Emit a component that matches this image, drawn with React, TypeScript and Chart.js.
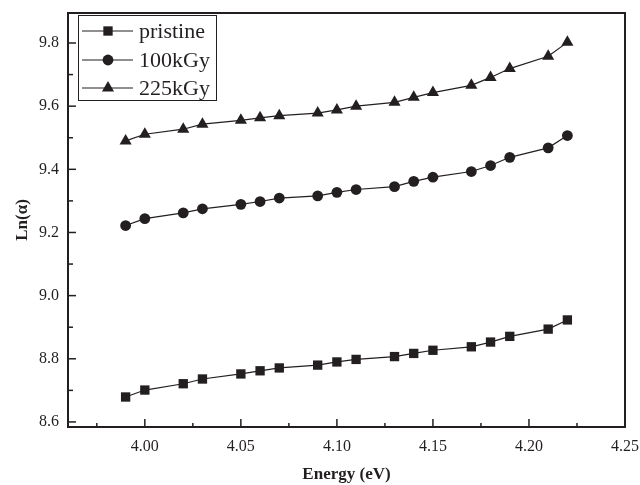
import React, { useEffect, useRef } from "react";
import { Chart, registerables } from "chart.js";

Chart.register(...registerables);

const energy = [3.99, 4.0, 4.02, 4.03, 4.05, 4.06, 4.07, 4.09, 4.1, 4.11, 4.13, 4.14, 4.15, 4.17, 4.18, 4.19, 4.21, 4.22];
const pristine = [8.679, 8.701, 8.721, 8.736, 8.752, 8.762, 8.771, 8.78, 8.79, 8.798, 8.807, 8.817, 8.827, 8.838, 8.853, 8.871, 8.894, 8.923];
const kgy100 = [9.222, 9.244, 9.262, 9.275, 9.289, 9.298, 9.309, 9.316, 9.327, 9.336, 9.345, 9.362, 9.375, 9.393, 9.412, 9.438, 9.468, 9.507];
const kgy225 = [9.49, 9.511, 9.527, 9.543, 9.555, 9.563, 9.57, 9.578, 9.588, 9.6, 9.612, 9.628, 9.643, 9.666, 9.691, 9.719, 9.758, 9.802];

const seriesLabels = ["pristine", "100kGy", "225kGy"];
const seriesMarkers = ["rect", "circle", "triangle"];
const seriesRadius = [6.6, 5.4, 7];

const xMajorTicks = [4.0, 4.05, 4.1, 4.15, 4.2, 4.25];
const xMinorTicks = [3.975, 4.025, 4.075, 4.125, 4.175, 4.225];
const yMajorTicks = [8.6, 8.8, 9.0, 9.2, 9.4, 9.6, 9.8];
const yMinorTicks = [8.7, 8.9, 9.1, 9.3, 9.5, 9.7];

const INK = "#231f20";
const FONT = "'Liberation Serif', 'Times New Roman', serif";

function drawMarker(ctx: CanvasRenderingContext2D, style: string, x: number, y: number, r: number) {
  ctx.beginPath();
  if (style === "rect") {
    const s = Math.SQRT1_2 * r;
    ctx.rect(x - s, y - s, 2 * s, 2 * s);
  } else if (style === "circle") {
    ctx.arc(x, y, r, 0, Math.PI * 2);
  } else {
    for (let k = 0; k < 3; k++) {
      const a = (k * 2 * Math.PI) / 3;
      const px = x + Math.sin(a) * r;
      const py = y - Math.cos(a) * r;
      if (k === 0) ctx.moveTo(px, py);
      else ctx.lineTo(px, py);
    }
    ctx.closePath();
  }
  ctx.fill();
}

const framePlugin = {
  id: "frameTicksLegend",
  afterDatasetsDraw(chart: any) {
    const { ctx, chartArea, scales } = chart;
    const { left, right, top, bottom } = chartArea;
    ctx.save();
    ctx.strokeStyle = INK;
    ctx.lineWidth = 1.5;
    const xs = scales.x;
    const ys = scales.y;
    const drawX = (vals: number[], len: number) => {
      vals.forEach((v) => {
        const px = xs.getPixelForValue(v);
        ctx.beginPath();
        ctx.moveTo(px, bottom);
        ctx.lineTo(px, bottom - len);
        ctx.stroke();
      });
    };
    const drawY = (vals: number[], len: number) => {
      vals.forEach((v) => {
        const py = ys.getPixelForValue(v);
        ctx.beginPath();
        ctx.moveTo(left, py);
        ctx.lineTo(left + len, py);
        ctx.stroke();
      });
    };
    drawX(xMajorTicks, 8);
    drawX(xMinorTicks, 4);
    drawY(yMajorTicks, 8);
    drawY(yMinorTicks, 5);
    ctx.lineWidth = 2;
    ctx.strokeRect(left, top, right - left, bottom - top);

    // legend
    const bx = 78, by = 15, bw = 138, bh = 85;
    ctx.fillStyle = "#ffffff";
    ctx.fillRect(bx, by, bw, bh);
    ctx.lineWidth = 1;
    ctx.strokeStyle = INK;
    ctx.strokeRect(bx + 0.5, by + 0.5, bw, bh);
    const rowsY = [31, 60, 88];
    chart.data.datasets.forEach((ds: any, i: number) => {
      const y = rowsY[i];
      ctx.beginPath();
      ctx.lineWidth = 1.2;
      ctx.strokeStyle = INK;
      ctx.moveTo(82, y);
      ctx.lineTo(133, y);
      ctx.stroke();
      ctx.fillStyle = INK;
      drawMarker(ctx, ds.pointStyle, 108, y, ds.pointRadius);
      ctx.fillStyle = INK;
      ctx.font = `22px ${FONT}`;
      ctx.textBaseline = "middle";
      ctx.textAlign = "left";
      ctx.fillText(ds.label, 139, y + 1);
    });
    ctx.restore();
  },
};

export default function App() {
  const ref = useRef<HTMLCanvasElement | null>(null);
  useEffect(() => {
    if (!ref.current) return;
    const series = [pristine, kgy100, kgy225];
    const chart = new Chart(ref.current, {
      type: "line",
      data: {
        datasets: series.map((vals, i) => ({
          label: seriesLabels[i],
          data: energy.map((e, j) => ({ x: e, y: vals[j] })),
          borderColor: INK,
          backgroundColor: INK,
          borderWidth: 1.2,
          pointStyle: seriesMarkers[i] as any,
          pointRadius: seriesRadius[i],
          pointBackgroundColor: INK,
          pointBorderWidth: 0,
          tension: 0,
        })),
      },
      options: {
        responsive: false,
        animation: false,
        layout: { padding: { top: 13, right: 15, left: 0, bottom: 0 } },
        plugins: { legend: { display: false }, tooltip: { enabled: false } },
        scales: {
          x: {
            type: "linear",
            min: 3.96,
            max: 4.25,
            afterBuildTicks: (s: any) => {
              s.ticks = xMajorTicks.map((v) => ({ value: v }));
            },
            afterFit: (s: any) => {
              s.height = 58;
              s.paddingLeft = 0;
              s.paddingRight = 0;
            },
            grid: { display: false, drawTicks: false },
            border: { display: false },
            ticks: {
              padding: 10,
              color: INK,
              font: { family: FONT, size: 16 },
              maxRotation: 0,
              autoSkip: false,
              callback: (v: any) => Number(v).toFixed(2),
            },
            title: {
              display: true,
              text: "Energy (eV)",
              color: INK,
              font: { family: FONT, size: 17, weight: "bold" },
              padding: { top: 0, bottom: 0 },
            },
          },
          y: {
            type: "linear",
            min: 8.584,
            max: 9.895,
            afterBuildTicks: (s: any) => {
              s.ticks = yMajorTicks.map((v) => ({ value: v }));
            },
            afterFit: (s: any) => {
              s.width = 68;
              s.paddingTop = 0;
              s.paddingBottom = 0;
            },
            grid: { display: false, drawTicks: false },
            border: { display: false },
            ticks: {
              padding: 9,
              color: INK,
              font: { family: FONT, size: 16 },
              autoSkip: false,
              callback: (v: any) => Number(v).toFixed(1),
            },
            title: {
              display: true,
              text: "Ln(α)",
              color: INK,
              font: { family: FONT, size: 17, weight: "bold" },
              padding: { top: 12, bottom: 0 },
            },
          },
        },
      },
      plugins: [framePlugin],
    });
    return () => chart.destroy();
  }, []);
  return (
    <div style={{ position: "absolute", left: 0, top: 0, width: 640, height: 485, background: "#fff" }}>
      <canvas ref={ref} width={640} height={485} />
    </div>
  );
}
